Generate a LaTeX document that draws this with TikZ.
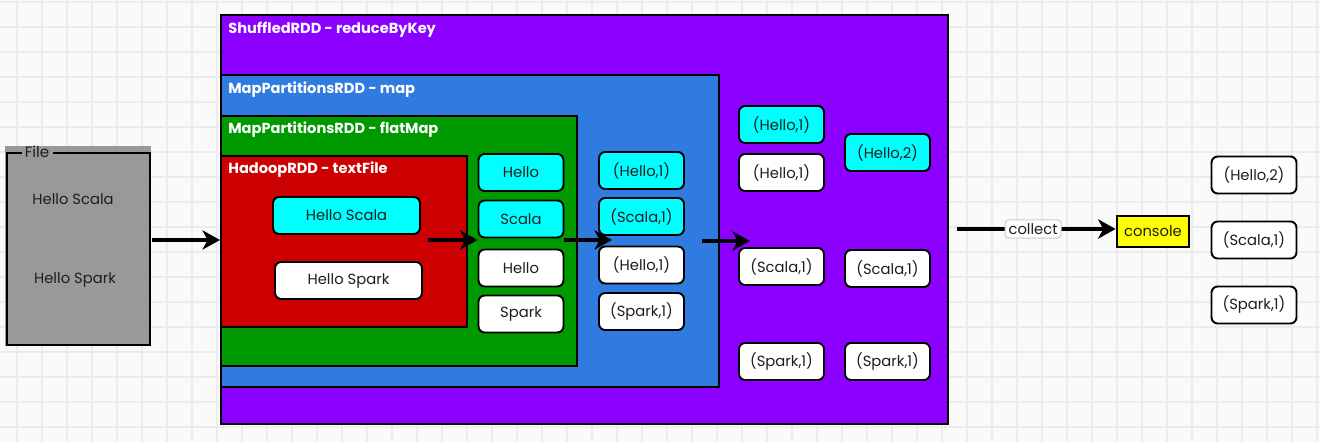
\documentclass[tikz,border=0pt]{standalone}
\usepackage{fontspec}
\setmainfont{Poppins}
\usetikzlibrary{positioning, arrows.meta}

\definecolor{rddpurple}{RGB}{140,0,255}
\definecolor{rddblue}{RGB}{47,123,224}
\definecolor{rddgreen}{RGB}{0,153,0}
\definecolor{rddred}{RGB}{204,0,0}
\definecolor{filegray}{RGB}{153,153,153}
\definecolor{gridline}{RGB}{236,236,236}
\definecolor{paper}{RGB}{250,250,250}
\definecolor{ink}{RGB}{30,30,30}
\definecolor{hitcyan}{RGB}{0,255,255}
\definecolor{consoleyellow}{RGB}{255,255,0}

\tikzset{
  rdd/.style={draw=black, line width=1.1pt, anchor=north west, inner sep=0pt},
  rddlabel/.style={anchor=west, text=white, inner sep=0pt, font=\bfseries\fontsize{8.3}{10}\selectfont},
  item/.style={draw=black, line width=1.1pt, rounded corners=3.5pt, fill=white, text=ink,
    minimum width=1.7cm, minimum height=0.74cm, inner sep=0pt, font=\fontsize{8.4}{10}\selectfont},
  hit/.style={item, fill=hitcyan},
  dataarrow/.style={-{Stealth[length=10pt, width=11pt, inset=3pt]}, line width=1.8pt},
}

\begin{document}
\begin{tikzpicture}[x=0.02cm, y=-0.02cm]

  % --- 1. background grid ---
  \useasboundingbox (0,0) rectangle (1320,442);
  \fill[paper] (0,0) rectangle (1320,442);
  \foreach \gx in {17,42,...,1320}
    \draw[gridline, line width=0.6pt] (\gx,0) -- (\gx,442);
  \foreach \gy in {2,27,...,442}
    \draw[gridline, line width=0.6pt] (0,\gy) -- (1320,\gy);

  % --- 2. File ---
  \node[fill=filegray, anchor=north west, inner sep=0pt,
        minimum width=2.92cm, minimum height=4.0cm] (file) at (5,146) {};
  \draw[line width=1.1pt] (22,153) -- (7,153) -- (7,345) -- (150,345) -- (150,153) -- (53,153);
  \node[text=ink, font=\fontsize{8.6}{10}\selectfont] (filetitle) at (37,152) {File};
  \node[text=ink, font=\fontsize{8.4}{10}\selectfont] (fileline1) at (73,199) {Hello Scala};
  \node[text=ink, font=\fontsize{8.4}{10}\selectfont] (fileline2) at (75,280) {Hello Spark};

  % --- 3. RDD containers ---
  \node[rdd, fill=rddpurple, minimum width=14.54cm, minimum height=8.18cm] (shuffled) at (220,14) {};
  \node[rddlabel] (shuffledname) at (228,30) {ShuffledRDD - reduceByKey};
  \node[rdd, fill=rddblue, minimum width=9.96cm, minimum height=6.24cm] (mapped) at (220,74) {};
  \node[rddlabel] (mappedname) at (228,90) {MapPartitionsRDD - map};
  \node[rdd, fill=rddgreen, minimum width=7.12cm, minimum height=5.0cm] (flat) at (220,115) {};
  \node[rddlabel] (flatname) at (228,130) {MapPartitionsRDD - flatMap};
  \node[rdd, fill=rddred, minimum width=4.92cm, minimum height=3.42cm] (hadoop) at (220,155) {};
  \node[rddlabel] (hadoopname) at (228,170) {HadoopRDD - textFile};

  % --- 4. HadoopRDD lines ---
  \node[hit, minimum width=2.94cm] (hs1) at (346.5,215.5) {Hello Scala};
  \node[item, minimum width=2.94cm] (hs2) at (348.5,280.5) {Hello Spark};

  % --- 5. flatMap words ---
  \node[hit] (fm1) at (521,172.5) {Hello};
  \node[hit] (fm2) at (521,219) {Scala};
  \node[item] (fm3) at (521,268) {Hello};
  \node[item] (fm4) at (521,314) {Spark};

  % --- 6. map pairs ---
  \node[hit] (mp1) at (641.5,170.5) {(Hello,1)};
  \node[hit] (mp2) at (641.5,216.5) {(Scala,1)};
  \node[item] (mp3) at (641.5,265) {(Hello,1)};
  \node[item] (mp4) at (641.5,311.5) {(Spark,1)};

  % --- 7. reduceByKey: grouped and summed ---
  \node[hit] (gr1) at (781.5,124.5) {(Hello,1)};
  \node[item] (gr2) at (781.5,172.5) {(Hello,1)};
  \node[item] (gr3) at (781.5,266.5) {(Scala,1)};
  \node[item] (gr4) at (781.5,361.5) {(Spark,1)};
  \node[hit] (rd1) at (887.5,152.5) {(Hello,2)};
  \node[item] (rd2) at (887.5,268.5) {(Scala,1)};
  \node[item] (rd3) at (887.5,361.5) {(Spark,1)};

  % --- 8. console output ---
  \node[draw=black, line width=1.6pt, fill=consoleyellow, text=ink, inner sep=0pt,
        minimum width=1.44cm, minimum height=0.62cm, font=\fontsize{8.4}{10}\selectfont] (console) at (1153,231.5) {console};
  \node[item] (out1) at (1254,175) {(Hello,2)};
  \node[item] (out2) at (1254,240) {(Scala,1)};
  \node[item] (out3) at (1254,305) {(Spark,1)};

  % --- 9. arrows ---
  \coordinate (a0) at (152,240);
  \coordinate (a1) at (428,240);
  \coordinate (a2) at (564,240);
  \coordinate (b2) at (612,240);
  \coordinate (a3) at (702,241);
  \coordinate (b3) at (750,241);
  \coordinate (a4) at (957,229);
  \draw[dataarrow] (a0) -- (a0 -| hadoop.west);
  \draw[dataarrow] (a1) -- (a1 -| fm1.west);
  \draw[dataarrow] (a2) -- (b2);
  \draw[dataarrow] (a3) -- (b3);
  \draw[dataarrow] (a4) -- (a4 -| console.west)
    node[pos=0.48, fill=white, draw=black!20, line width=0.6pt, rounded corners=2pt, text=ink,
         inner sep=2pt, font=\fontsize{8.4}{10}\selectfont] (collect) {collect};

\end{tikzpicture}
\end{document}
